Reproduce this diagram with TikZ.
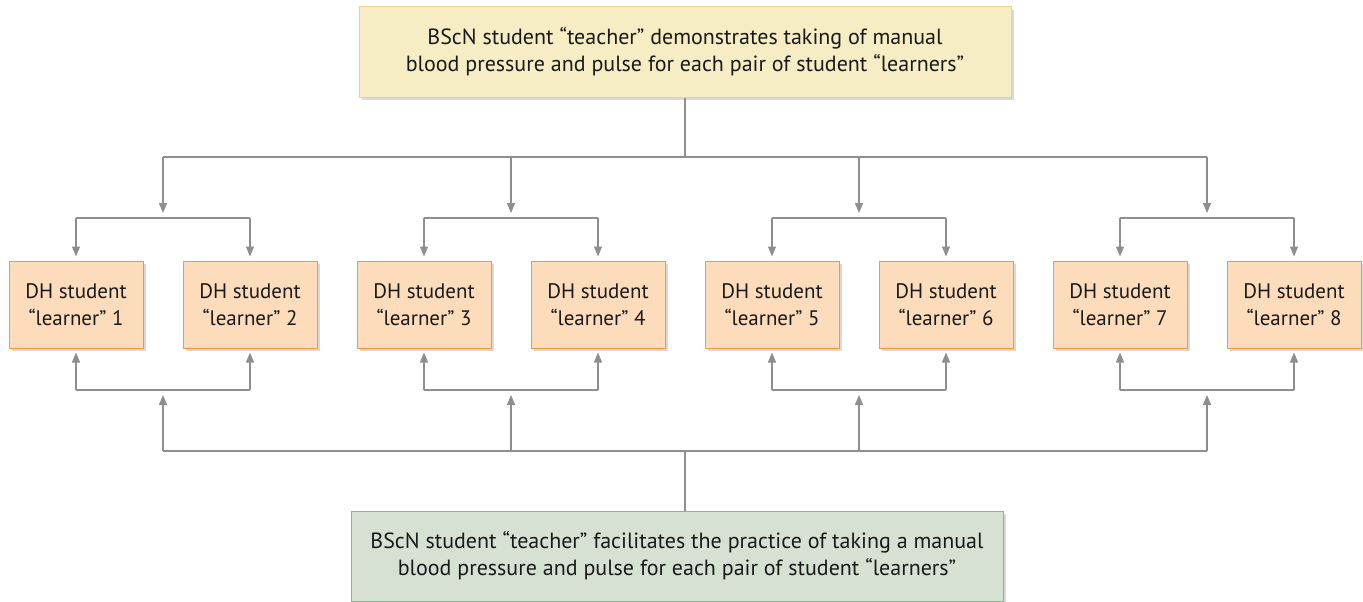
\documentclass[tikz,border=0pt]{standalone}
\usepackage{fontspec}
\setmainfont{PT Sans}
\usetikzlibrary{shadows,arrows.meta}
\definecolor{topfill}{HTML}{F7EDC4}
\definecolor{topline}{HTML}{E6D68C}
\definecolor{lfill}{HTML}{FDDCBC}
\definecolor{lline}{HTML}{F39A3C}
\definecolor{botfill}{HTML}{D6E0D3}
\definecolor{botline}{HTML}{8FB38C}
\definecolor{linegray}{HTML}{8E8E8E}
\definecolor{txt}{HTML}{1A1A1A}
\begin{document}
\begin{tikzpicture}[x=1pt,y=-1pt,
  every node/.style={text=txt, align=center, inner sep=0pt},
  shade/.style={drop shadow={shadow xshift=3pt, shadow yshift=-3pt, opacity=0.25, fill=black!60}},
  topbox/.style={shade, fill=topfill, draw=topline, line width=1pt, minimum width=652pt, minimum height=90pt, font=\fontsize{22}{27}\selectfont},
  botbox/.style={shade, fill=botfill, draw=botline, line width=1pt, minimum width=652pt, minimum height=90pt, font=\fontsize{22}{27}\selectfont},
  lbox/.style={shade, fill=lfill, draw=lline, line width=1pt, minimum width=134pt, minimum height=87pt, font=\fontsize{21}{27}\selectfont},
  conn/.style={draw=linegray, line width=1.3pt},
  arr/.style={conn, -{Triangle[length=10pt,width=8pt]}}]
\useasboundingbox (0,0) rectangle (1363,602);

\node[topbox] (top) at (685,52) {BScN student “teacher” demonstrates taking of manual\\blood pressure and pulse for each pair of student “learners”};
\node[botbox] (bot) at (677,556) {BScN student “teacher” facilitates the practice of taking a manual\\blood pressure and pulse for each pair of student “learners”};

\foreach \i/\x in {1/76,2/250,3/424,4/598,5/772,6/946,7/1120,8/1294}
  \node[lbox] (l\i) at (\x,304.5) {DH student\\“learner” \i};

% top distribution
\coordinate (tj) at (685,157);
\coordinate (tl) at (163,157);
\coordinate (tr) at (1207,157);
\draw[conn] (top.south) -- (tj);
\draw[conn] (tl) -- (tr);
% bottom collection
\coordinate (bj) at (685,451);
\coordinate (bl) at (163,451);
\coordinate (br) at (1207,451);
\draw[conn] (bot.north -| bj) -- (bj);
\draw[conn] (bl) -- (br);

\foreach \p/\a/\b/\m in {1/l1/l2/163,2/l3/l4/511,3/l5/l6/859,4/l7/l8/1207}{
  \coordinate (tm\p) at (\m,157);
  \coordinate (ta\p) at (\m,213);
  \draw[arr] (tm\p) -- (ta\p);
  \coordinate (pa\p) at (\a.north |- 0,218);
  \coordinate (pb\p) at (\b.north |- 0,218);
  \draw[conn] (pa\p) -- (pb\p);
  \draw[arr, shorten >=4pt] (pa\p) -- (\a.north);
  \draw[arr, shorten >=4pt] (pb\p) -- (\b.north);
  \coordinate (bm\p) at (\m,451);
  \coordinate (ba\p) at (\m,395);
  \draw[arr] (bm\p) -- (ba\p);
  \coordinate (qa\p) at (\a.south |- 0,390);
  \coordinate (qb\p) at (\b.south |- 0,390);
  \draw[conn] (qa\p) -- (qb\p);
  \draw[arr, shorten >=4pt] (qa\p) -- (\a.south);
  \draw[arr, shorten >=4pt] (qb\p) -- (\b.south);
}
\end{tikzpicture}
\end{document}
